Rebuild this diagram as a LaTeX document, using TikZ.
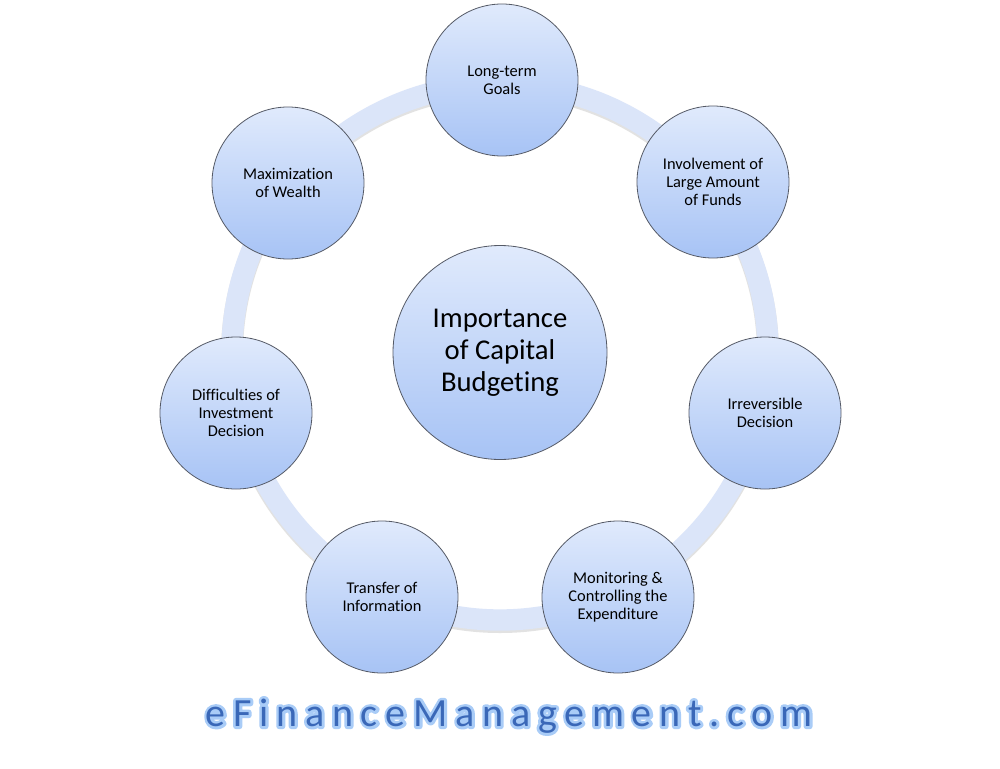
\documentclass[tikz,border=0pt]{standalone}
\usepackage{fontspec}
\setmainfont{Carlito}[Ligatures=CommonOff]
\definecolor{ringblue}{HTML}{DBE5F9}
\definecolor{ringshadow}{HTML}{E2E2E2}
\definecolor{ctop}{HTML}{E0EAFC}
\definecolor{cbot}{HTML}{A7C3F5}
\definecolor{cedge}{HTML}{555A66}
\definecolor{wmglow}{HTML}{A9CCF7}
\definecolor{wmfill}{HTML}{3A68B8}
\tikzset{
  sat/.style={circle, draw=cedge, line width=0.6pt, top color=ctop, bottom color=cbot,
    minimum size=114pt, inner sep=0pt, align=center, text=black,
    font=\fontsize{12.3}{13.5}\selectfont},
  hub/.style={circle, draw=cedge, line width=0.6pt, top color=ctop, bottom color=cbot,
    minimum size=160.5pt, inner sep=0pt, align=center, text=black,
    font=\fontsize{21.5}{24}\selectfont},
  wm/.style={font=\fontsize{30}{30}\selectfont\addfontfeatures{LetterSpace=19.5}, inner sep=0pt}
}
\newcommand{\wmtext}{eFinanceManagement.com}
\newcommand{\glowtext}[1]{\special{pdf:literal direct q 1 Tr 4.2 w 1 j}#1\special{pdf:literal direct Q}}
\begin{document}
\begin{tikzpicture}[x=0.75pt,y=-0.75pt]
\useasboundingbox (0,0) rectangle (1000,768);
\fill[white] (0,0) rectangle (1000,768);
% ring with soft shadow
\draw[line width=16.5pt, color=ringshadow] (500,354) circle (268);
\draw[line width=16pt, color=ringblue] (500,352) circle (268);
% hub
\node[hub] (hub) at (500,352.5) {Importance\\of Capital\\Budgeting};
% satellites
\node[sat] (lt)  at (502,80)  {Long-term\\Goals};
\node[sat] (inv) at (713,182) {Involvement of\\Large Amount\\of Funds};
\node[sat] (irr) at (765,413) {Irreversible\\Decision};
\node[sat] (mon) at (618,597) {Monitoring \&\\Controlling the\\Expenditure};
\node[sat] (tra) at (382,597) {Transfer of\\Information};
\node[sat] (dif) at (236,413) {Difficulties of\\Investment\\Decision};
\node[sat] (max) at (288,183) {Maximization\\of Wealth};
% watermark: glow outline, then fill
\node[wm, text=wmglow] (wmg) at (509,716) {\glowtext{\wmtext}};
\node[wm, text=wmfill] (wm) at (509,716) {\wmtext};
\end{tikzpicture}
\end{document}
